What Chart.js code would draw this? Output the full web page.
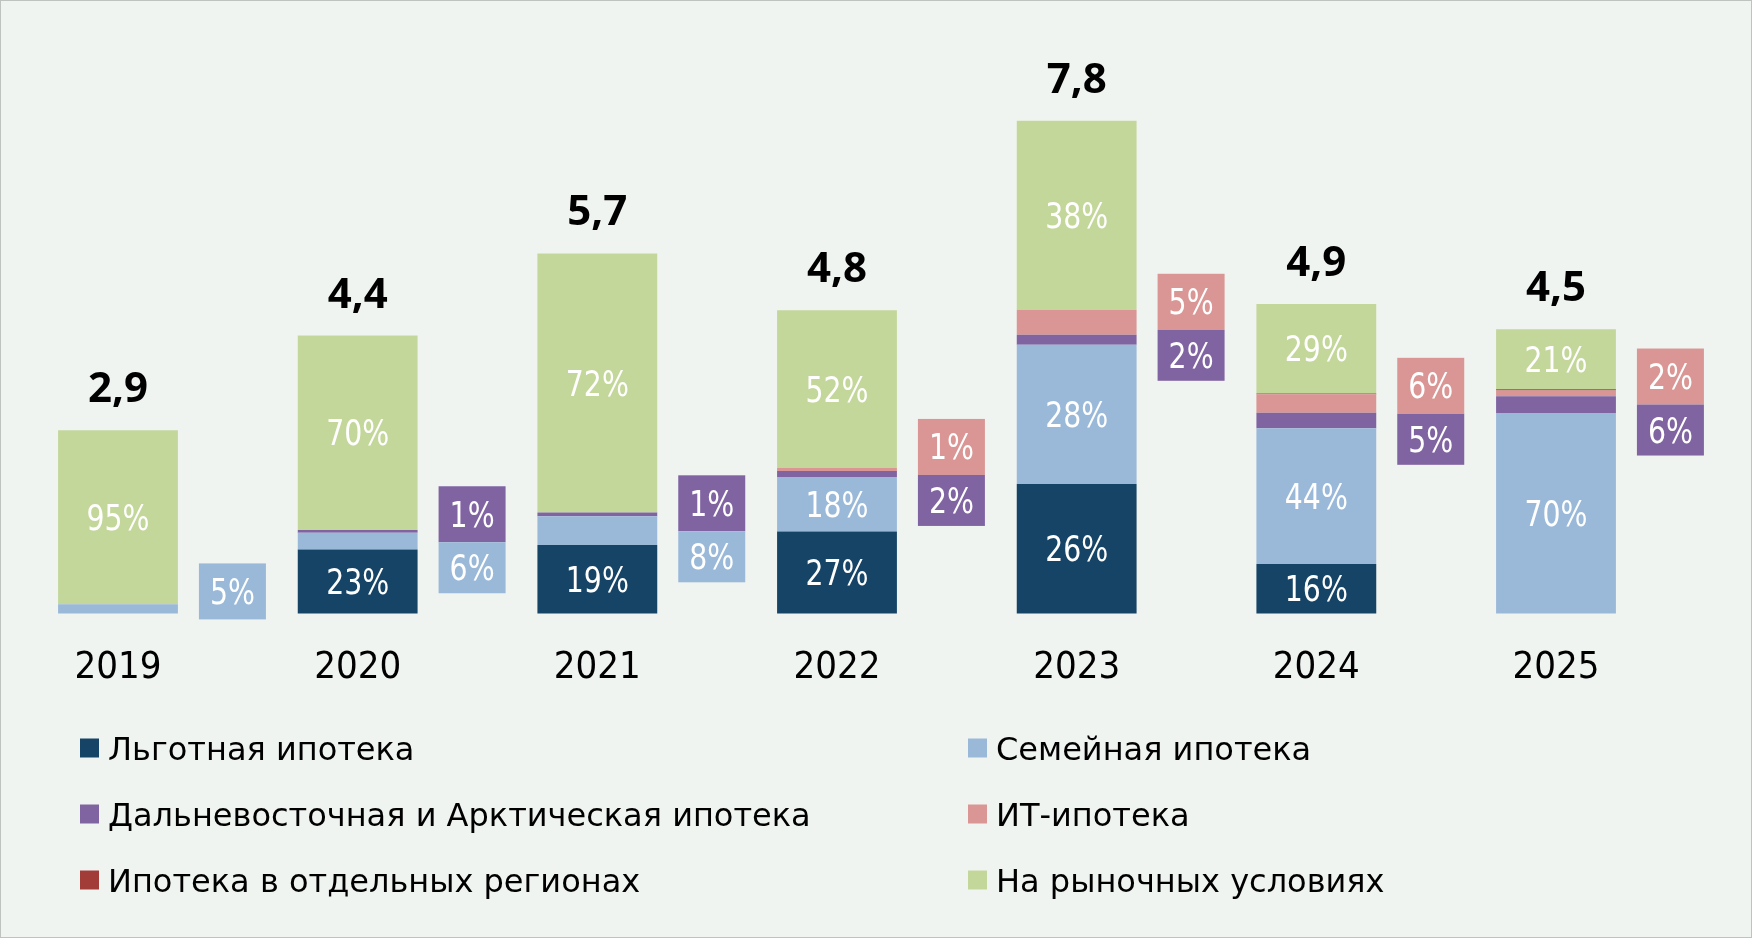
<!DOCTYPE html>
<html>
<head>
<meta charset="utf-8">
<script src="https://cdn.jsdelivr.net/npm/chart.js@4.4.1/dist/chart.umd.min.js"></script>
<style>
  html, body { margin: 0; padding: 0; background: #f0f4f1; }
  #frame { position: absolute; left: 0; top: 0; width: 1752px; height: 938px; box-sizing: border-box; border: 1px solid #bfc3bf; }
  #chart { position: absolute; left: 0; top: 0; }
</style>
</head>
<body>
<div id="frame"></div>
<canvas id="chart" width="1752" height="938"></canvas>
<script>
const years = ['2019', '2020', '2021', '2022', '2023', '2024', '2025'];
const totals = [2.9, 4.4, 5.7, 4.8, 7.8, 4.9, 4.5];

// shares, %
const lgotnaya = [0, 23, 19, 27, 26, 16, 0];
const semeynaya = [5, 6, 8, 18, 28, 44, 70];
const dalnevost = [0, 1, 1, 2, 2, 5, 6];
const itIpoteka = [0, 0, 0, 1, 5, 6, 2];
const regiony = [0, 0, 0, 0, 0, 0.3, 0.5];
const rynok = [95, 70, 72, 52, 38, 29, 21];

const seriesNames = [
  'Льготная ипотека',
  'Семейная ипотека',
  'Дальневосточная и Арктическая ипотека',
  'ИТ-ипотека',
  'Ипотека в отдельных регионах',
  'На рыночных условиях'
];
const seriesShares = [lgotnaya, semeynaya, dalnevost, itIpoteka, regiony, rynok];
const seriesColors = ['#164466', '#9ab9d9', '#8064a2', '#d99694', '#a13c38', '#c4d79b'];

const NARROW = '"DejaVu Sans Condensed", "Noto Sans", sans-serif';
const WIDE = '"DejaVu Sans", "Noto Sans", sans-serif';

// share -> value so that stack sums to year total
function toValues(shares) {
  return shares.map((s, i) => {
    let sum = 0;
    seriesShares.forEach(arr => sum += arr[i]);
    return totals[i] * s / sum;
  });
}

const datasets = seriesNames.map((name, k) => ({
  label: name,
  data: toValues(seriesShares[k]),
  backgroundColor: seriesColors[k],
  borderWidth: 0,
  clip: false,
  barPercentage: 0.5,
  categoryPercentage: 1
}));

// text squeezed a bit horizontally
function squeezed(ctx, txt, x, y, sx) {
  ctx.save();
  ctx.translate(x, y);
  ctx.scale(sx, 1);
  ctx.fillText(txt, 0, 0);
  ctx.restore();
}

const labelsPlugin = {
  id: 'labels',
  afterDatasetsDraw(chart) {
    const ctx = chart.ctx;
    const base = chart.scales.y.getPixelForValue(0);
    ctx.save();
    ctx.textAlign = 'center';
    ctx.textBaseline = 'alphabetic';
    years.forEach((yr, i) => {
      let top = base, bx = 0, bw = 0;
      const small = [];
      chart.data.datasets.forEach((ds, k) => {
        const bar = chart.getDatasetMeta(k).data[i];
        const share = seriesShares[k][i];
        bx = bar.x; bw = bar.width;
        if (bar.y < top) top = bar.y;
        if (share >= 10) {
          ctx.font = '35px ' + NARROW;
          ctx.fillStyle = '#fff';
          squeezed(ctx, share + '%', bar.x, (bar.y + bar.base) / 2 + 12.5, 0.9);
        } else if (share >= 1) {
          small.push({ k, share, y: bar.y, b: bar.base });
        }
      });

      // total above the bar
      ctx.font = 'bold 42px "Noto Sans", "DejaVu Sans", sans-serif';
      ctx.fillStyle = '#000';
      ctx.fillText(String(totals[i]).replace('.', ','), bx, top - 40 + 12);

      // side boxes for the small shares
      if (small.length) {
        small.reverse();
        const segTop = small[0].y;
        const segBot = small[small.length - 1].b;
        const heights = small.map((s, j) => j === 0 ? 56 : 51);
        const totalH = heights.reduce((a, b) => a + b, 0);
        let y0 = (segTop + segBot) / 2 - totalH / 2;
        if (y0 + totalH > base + 6) y0 = base + 6 - totalH;
        const x0 = bx + bw / 2 + 21;
        small.forEach((s, j) => {
          ctx.fillStyle = seriesColors[s.k];
          ctx.fillRect(x0, y0, 67, heights[j]);
          ctx.font = '35px ' + NARROW;
          ctx.fillStyle = '#fff';
          squeezed(ctx, s.share + '%', x0 + 33.5, y0 + heights[j] / 2 + 12.5, 0.9);
          y0 += heights[j];
        });
      }
    });
    ctx.restore();
  },
  afterDraw(chart) {
    const ctx = chart.ctx;
    ctx.save();
    ctx.font = '32px ' + WIDE;
    ctx.textAlign = 'left';
    ctx.textBaseline = 'alphabetic';
    chart.data.datasets.forEach((ds, k) => {
      const col = k % 2, row = Math.floor(k / 2);
      const x = col === 0 ? 80 : 968;
      const cy = 748 + row * 66;
      ctx.fillStyle = ds.backgroundColor;
      ctx.fillRect(x, cy - 9.5, 19, 19);
      ctx.fillStyle = '#000';
      ctx.fillText(ds.label, x + 28, cy + 11.5);
    });
    ctx.restore();
  }
};

new Chart(document.getElementById('chart'), {
  type: 'bar',
  data: { labels: years, datasets },
  options: {
    responsive: false,
    animation: false,
    layout: { padding: { left: 118, right: 196, top: 45, bottom: 215 } },
    plugins: { legend: { display: false }, tooltip: { enabled: false } },
    scales: {
      x: {
        stacked: true,
        offset: false,
        grid: { display: false, drawTicks: false },
        border: { display: false },
        ticks: { color: '#000', padding: 32, font: { family: NARROW, size: 38 } }
      },
      y: { stacked: true, display: false, min: 0, max: 9 }
    }
  },
  plugins: [labelsPlugin]
});
</script>
</body>
</html>
